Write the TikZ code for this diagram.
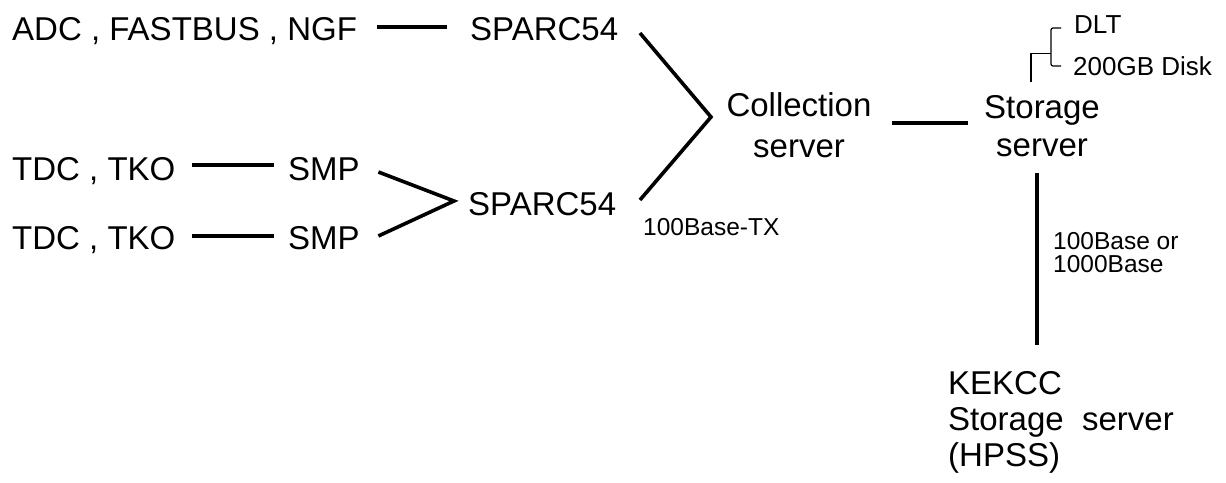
\documentclass[tikz,border=0pt]{standalone}
\usepackage{fontspec}
\setmainfont{Liberation Sans}
\begin{document}
\begin{tikzpicture}[x=1pt,y=-1pt,
  big/.style={font=\fontsize{33}{40}\selectfont, inner sep=0pt, text height=23.6pt, text depth=0pt},
  small/.style={font=\fontsize{24.5}{23.5}\selectfont, inner sep=0pt},
  tiny/.style={font=\fontsize{26}{26}\selectfont, inner sep=0pt},
  conn/.style={line width=3.6pt},
  thinline/.style={line width=1.2pt}]
\useasboundingbox (0,0) rectangle (1226,482);
% text nodes
\node[big,anchor=west] (adc) at (12,29) {ADC , FASTBUS , NGF};
\node[big,anchor=west] (spA) at (470,29) {SPARC54};
\node[big,anchor=west] (tdcA) at (12,169) {TDC , TKO};
\node[big,anchor=west] (tdcB) at (12,237.5) {TDC , TKO};
\node[big,anchor=west] (smpA) at (288,169) {SMP};
\node[big,anchor=west] (smpB) at (288,237.5) {SMP};
\node[big,anchor=west] (spB) at (468,203.5) {SPARC54};
\node[font=\fontsize{33}{41}\selectfont, align=center, inner sep=0pt] (coll) at (799,125.5) {Collection\\server};
\node[font=\fontsize{33}{38}\selectfont, align=center, inner sep=0pt] (stor) at (1042,126) {Storage\\server};
\node[font=\fontsize{33}{36}\selectfont, align=left, inner sep=0pt, anchor=north west] (kek) at (948,371.5) {KEKCC\\Storage\ \ server\\(HPSS)};
\node[small, anchor=base west] (tx) at (643,235) {100Base-TX};
\node[small, align=left, anchor=north west] (gb) at (1053,232) {100Base or\\1000Base};
\node[tiny, anchor=base west] (dlt) at (1074,33) {DLT};
\node[tiny, anchor=base west] (disk) at (1073,75) {200GB Disk};
% connectors
\draw[conn] ([shift={(19.4,-2)}]adc.east) -- ([shift={(-23,-2)}]spA.west);
\draw[conn] ([shift={(16,-4)}]tdcA.east) -- ([shift={(-14,-4)}]smpA.west);
\draw[conn] ([shift={(16,-1.5)}]tdcB.east) -- ([shift={(-14,-1.5)}]smpB.west);
\coordinate (apex) at (454,201);
\draw[conn] ([shift={(18.5,3)}]smpA.east) -- (apex) -- ([shift={(18.5,-1.5)}]smpB.east);
\coordinate (cj) at (711,117);
\draw[conn] ([shift={(21.6,4)}]spA.east) -- (cj) -- ([shift={(23.6,-3.5)}]spB.east);
\draw[conn] ([shift={(20.6,-2.5)}]coll.east) -- ([shift={(-16.2,-3)}]stor.west);
\coordinate (kt) at (stor.south |- kek.north);
\draw[conn] ([shift={(-5,16)}]stor.south) -- ([shift={(-5,-26.5)}]kt);
% bracket
\draw[thinline] ([shift={(-11,-13)}]stor.north) -- ++(0,-29) -- ++(20,0);
\draw[thinline, rounded corners=2pt] ([shift={(-13,-5)}]dlt.base west) -- ++(-10,0) |- ([shift={(-12,-9)}]disk.base west);
\end{tikzpicture}
\end{document}
